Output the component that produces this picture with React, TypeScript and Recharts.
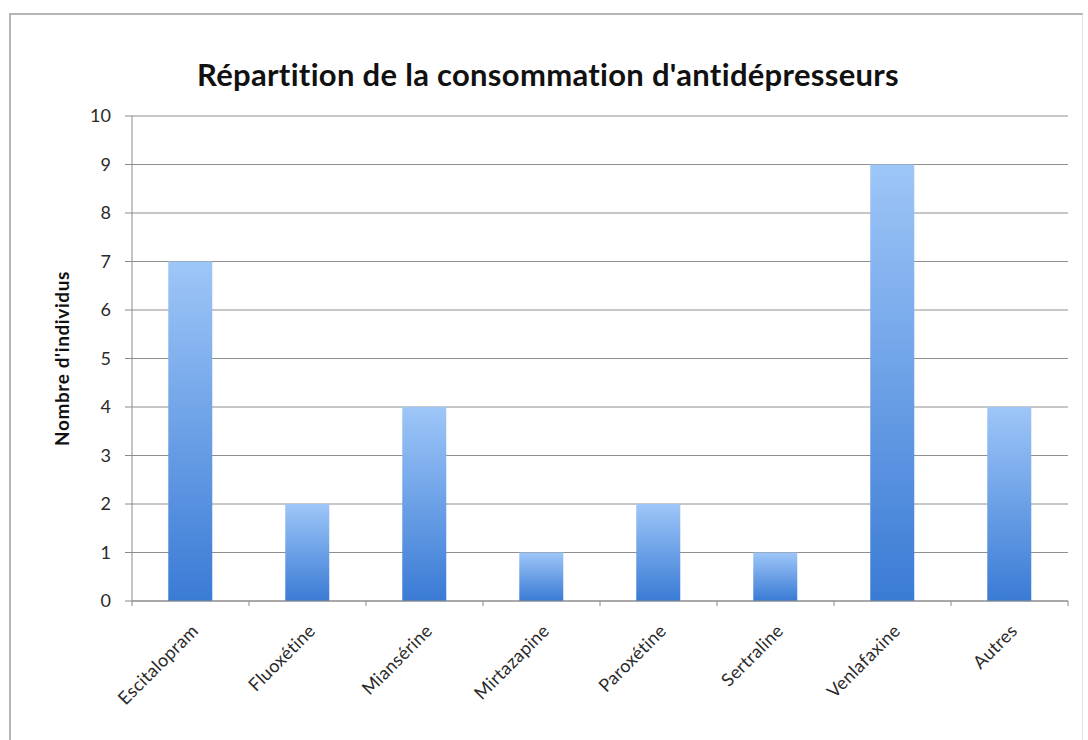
import React from 'react';
import { BarChart, Bar, XAxis, YAxis, CartesianGrid } from 'recharts';

const categories = ['Escitalopram', 'Fluoxétine', 'Miansérine', 'Mirtazapine', 'Paroxétine', 'Sertraline', 'Venlafaxine', 'Autres'];
const values = [7, 2, 4, 1, 2, 1, 9, 4];
const yTicks = [0, 1, 2, 3, 4, 5, 6, 7, 8, 9, 10];
const title = "Répartition de la consommation d'antidépresseurs";
const yLabel = "Nombre d'individus";

const data = categories.map((name, i) => ({ name, value: values[i] }));

const W = 1088;
const H = 740;
const MARGIN = { top: 116, right: 20, bottom: 0, left: 0 };
const Y_WIDTH = 132;
const X_HEIGHT = 139;
const FONT = 'Lato, "Open Sans", sans-serif';

const XTick = (props: any) => {
  const { x, y, payload, index } = props;
  const step = (W - MARGIN.left - MARGIN.right - Y_WIDTH) / categories.length;
  const top = y - 8;
  const ax = x + 9;
  const ay = top + 31;
  return (
    <g>
      <line x1={x - step / 2} x2={x - step / 2} y1={top} y2={top + 5} stroke="#8a8a8a" />
      {index === categories.length - 1 && (
        <line x1={x + step / 2} x2={x + step / 2} y1={top} y2={top + 5} stroke="#8a8a8a" />
      )}
      <text
        x={ax}
        y={ay}
        textAnchor="end"
        fontSize={18}
        fill="#2a2a2a"
        fontFamily={FONT}
        letterSpacing={0.3}
        transform={`rotate(-45, ${ax}, ${ay})`}
      >
        {payload.value}
      </text>
    </g>
  );
};

export default function App() {
  return (
    <div style={{ position: 'absolute', left: 0, top: 0, width: W, height: H, background: '#fff', overflow: 'hidden' }}>
      <div
        style={{
          position: 'absolute',
          left: 9,
          top: 13,
          width: 1074,
          height: 740,
          borderTop: '2px solid #b5b5b5',
          borderLeft: '2px solid #b5b5b5',
          borderRight: '1px solid #e4e4e4',
          boxSizing: 'border-box',
        }}
      />
      <div
        style={{
          position: 'absolute',
          left: 0,
          top: 54,
          width: W,
          textAlign: 'center',
          fontFamily: FONT,
          fontWeight: 700,
          fontSize: 31,
          lineHeight: '40px',
          letterSpacing: 0.3,
          color: '#111',
          whiteSpace: 'nowrap',
          paddingLeft: 8,
          boxSizing: 'border-box',
        }}
      >
        {title}
      </div>
      <div style={{ position: 'absolute', left: 0, top: 0 }}>
        <BarChart width={W} height={H} data={data} margin={MARGIN} barCategoryGap="31%">
          <defs>
            <linearGradient id="barGrad" x1="0" y1="0" x2="0" y2="1">
              <stop offset="0%" stopColor="#9ec6f8" />
              <stop offset="100%" stopColor="#3a7bd5" />
            </linearGradient>
          </defs>
          <CartesianGrid vertical={false} stroke="#8f8f8f" strokeWidth={1.2} />
          <XAxis
            dataKey="name"
            height={X_HEIGHT}
            interval={0}
            tickLine={false}
            axisLine={{ stroke: '#8a8a8a' }}
            tick={<XTick />}
          />
          <YAxis
            width={Y_WIDTH}
            domain={[0, 10]}
            ticks={yTicks}
            interval={0}
            tickSize={7}
            tickLine={{ stroke: '#8a8a8a' }}
            axisLine={{ stroke: '#8a8a8a' }}
            tick={{ fill: '#2a2a2a', fontSize: 18, fontFamily: FONT }}
            tickMargin={14}
            label={{
              value: yLabel,
              angle: -90,
              position: 'insideLeft',
              offset: 62,
              style: { textAnchor: 'middle', fontFamily: FONT, fontWeight: 700, fontSize: 19, letterSpacing: 0.6, fill: '#111' },
            }}
          />
          <Bar dataKey="value" fill="url(#barGrad)" isAnimationActive={false} />
        </BarChart>
      </div>
    </div>
  );
}
